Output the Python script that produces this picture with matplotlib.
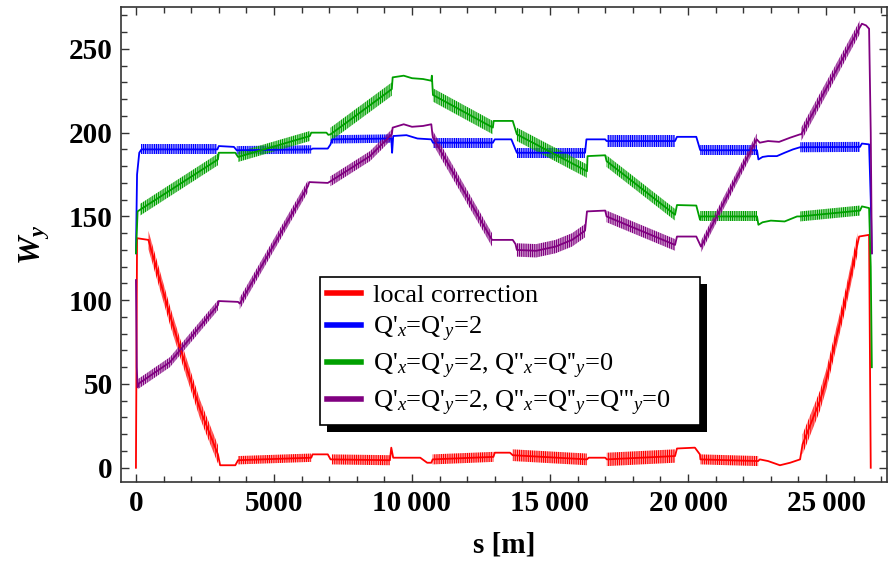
import matplotlib
matplotlib.use("Agg")
import matplotlib.pyplot as plt
import numpy as np
from matplotlib.patches import Rectangle
from matplotlib.ticker import MultipleLocator, FuncFormatter

plt.rcParams['font.family'] = 'Liberation Serif'
plt.rcParams['mathtext.fontset'] = 'custom'
plt.rcParams['mathtext.rm'] = 'Liberation Serif'
plt.rcParams['mathtext.it'] = 'Liberation Serif:italic'
plt.rcParams['mathtext.bf'] = 'Liberation Serif:bold:italic'
plt.rcParams['hatch.linewidth'] = 0.9

# W_y along the ring, s in metres (centre line of each curve)
s_red = [0, 40, 450, 1230, 1590, 2320, 2970, 3050, 3600, 3700, 6350, 6400, 6950, 7050,
         9200, 9250, 9320, 10300, 10550, 10700, 10750, 12950, 13000, 13550, 13650, 16340,
         16400, 17000, 17060, 19530, 19600, 20250, 20430, 20450, 22540, 22600, 22900, 23330,
         23700, 24060, 24150, 24780, 25000, 25700, 26200, 26560, 26620]
w_red = [0, 137, 136, 91, 72, 35, 8, 1.5, 1.5, 4.5, 6, 8, 8, 5,
         4.5, 12, 6, 6, 3, 3, 5, 6.5, 9, 9, 7.5, 5,
         6, 6, 5, 7, 11.5, 12, 8, 5, 4, 5, 4, 1.5,
         3, 5, 14, 40, 52, 100, 138, 139, 0]

s_blue = [0, 40, 120, 200, 2950, 3000, 3550, 3650, 6350, 6400, 6950, 7050, 7100, 9250,
          9280, 9320, 9800, 10200, 10700, 10760, 12930, 13000, 13600, 13800, 16270, 16320,
          17000, 17050, 19530, 19600, 20300, 20435, 20450, 22500, 22550, 22700, 22900, 23220,
          23500, 23800, 24060, 26230, 26300, 26560, 26620, 26660]
w_blue = [128, 175, 188, 190, 190, 192, 191.5, 189.5, 190, 190.5, 190.5, 193, 196, 196.5,
          188, 198, 198.5, 196.5, 196, 194, 194, 196, 196, 188, 188, 196,
          196, 195, 195, 197.5, 197.5, 190, 189.5, 189.5, 184, 185.5, 186, 186,
          188, 190, 191.3, 191.5, 193.5, 193, 160, 128]

s_green = [0, 60, 150, 2970, 3000, 3600, 3700, 6300, 6350, 6900, 6970, 7050, 9270, 9300,
           9700, 10000, 10400, 10700, 10720, 10760, 12930, 12960, 13650, 13800, 16340, 16360,
           17000, 17050, 19530, 19600, 20300, 20435, 20450, 22500, 22550, 22700, 23000, 23500,
           23950, 24060, 26230, 26300, 26560, 26620, 26660]
w_green = [128, 153, 154, 184, 188, 188, 185.5, 198, 200, 200, 198.7, 199, 226, 233,
           234, 232.5, 232, 231, 234, 222.5, 203, 207, 207, 199, 177, 186,
           186.5, 183, 151, 156.8, 156.5, 148, 150, 150, 145, 146.5, 147.5, 147,
           150, 150, 153.5, 156, 155, 120, 60]

s_purple = [0, 30, 60, 80, 1230, 2970, 3000, 3700, 3760, 6230, 6280, 6950, 7050, 8480,
            9270, 9300, 9700, 10000, 10400, 10700, 10740, 10760, 12900, 12950, 13650, 13750,
            13800, 14500, 15200, 15800, 16270, 16340, 17000, 17050, 19530, 19600, 20300, 20470,
            22490, 22600, 22900, 23300, 23700, 24060, 24100, 26230, 26300, 26450, 26560, 26620,
            26660]
w_purple = [112, 60, 48, 50, 63, 97, 99.5, 99, 98, 168, 170.5, 170, 171, 186,
            199, 203, 205, 203.5, 204, 205, 199, 197, 136, 136, 136, 133.5,
            130, 129.5, 132, 136, 141.5, 153, 153.5, 150, 133, 138, 138, 132,
            196, 194, 195, 194.5, 197, 199, 199, 263, 265, 264, 262, 200,
            128]

# stretches where the curve oscillates element by element: (s start, s end, full swing)
ripple_red = [(450, 2970, 11), (3700, 6350, 5), (7100, 9200, 6), (10750, 12950, 6),
              (13650, 16340, 7), (17060, 19530, 8), (20450, 22540, 6), (24150, 26150, 12)]
ripple_blue = [(200, 2950, 6), (3650, 6350, 5), (7100, 9250, 5), (10760, 12930, 6),
               (13800, 16270, 6), (17050, 19530, 7), (20450, 22500, 6), (24060, 26230, 6)]
ripple_green = [(150, 2970, 7), (3700, 6300, 6), (7050, 9270, 8), (10760, 12930, 8),
                (13800, 16340, 8), (17050, 19530, 7), (20450, 22500, 6), (24060, 26230, 6)]
ripple_purple = [(80, 1230, 6), (1230, 2970, 6), (3760, 6230, 7), (7050, 9270, 6),
                 (10760, 12900, 8), (13800, 16270, 8), (17050, 19530, 7), (20470, 22490, 7),
                 (24100, 26230, 8)]

labels = ["local correction",
          "Q'$_x$=Q'$_y$=2",
          "Q'$_x$=Q'$_y$=2, Q''$_x$=Q''$_y$=0",
          "Q'$_x$=Q'$_y$=2, Q''$_x$=Q''$_y$=Q'''$_y$=0"]
colors = ['#ff0000', '#0000ff', '#00a000', '#800080']

series = [(s_red, w_red, ripple_red),
          (s_blue, w_blue, ripple_blue),
          (s_green, w_green, ripple_green),
          (s_purple, w_purple, ripple_purple)]

fig = plt.figure(figsize=(8.94, 5.68), dpi=100)
ax = fig.add_axes([0.1353, 0.1514, 0.8569, 0.8363])

lines = []
for (s, w, ripple), c, lab in zip(series, colors, labels):
    s = np.array(s, float)
    w = np.array(w, float)
    ln, = ax.plot(s, w, color=c, lw=1.3, label=lab, solid_joinstyle='round')
    lines.append(ln)
    for s0, s1, amp in ripple:
        xs = np.concatenate([[s0], s[(s > s0) & (s < s1)], [s1]])
        ys = np.interp(xs, s, w)
        ax.fill_between(xs, ys - amp / 2, ys + amp / 2, facecolor='none',
                        edgecolor=c, hatch='|' * 9, linewidth=0)

ax.set_xlim(-543, 27210)
ax.set_ylim(-8.5, 275)

ax.xaxis.set_major_locator(MultipleLocator(5000))
ax.xaxis.set_minor_locator(MultipleLocator(1000))
ax.yaxis.set_major_locator(MultipleLocator(50))
ax.yaxis.set_minor_locator(MultipleLocator(10))


def fmt_s(v, pos):
    v = int(round(v))
    if v >= 10000:
        return f"{v // 1000}\u2009{v % 1000:03d}"
    return str(v)


ax.xaxis.set_major_formatter(FuncFormatter(fmt_s))
ax.tick_params(which='both', direction='in', top=True, right=True, width=1.0, color='#333333')
ax.tick_params(which='major', length=6, pad=6, labelsize=21)
ax.tick_params(which='minor', length=4)
for lab in ax.get_xticklabels() + ax.get_yticklabels():
    lab.set_fontweight('bold')
for sp in ax.spines.values():
    sp.set_linewidth(1.2)
    sp.set_color('#333333')

ax.set_xlabel('s [m]', fontsize=21, fontweight='bold', labelpad=10)
ax.set_ylabel(r'$\mathbf{W_y}$', fontsize=23, labelpad=12)

leg_x0, leg_top = 320 / 894, 1 - 277 / 568
leg_w, leg_h = 380 / 894, 145 / 568
leg = ax.legend(handles=lines, loc='upper left',
                bbox_to_anchor=(leg_x0, leg_top - leg_h, leg_w, leg_h),
                bbox_transform=fig.transFigure, mode='expand', borderaxespad=0,
                fontsize=19, fancybox=False, framealpha=1, edgecolor='black',
                handlelength=1.3, handletextpad=0.45, labelspacing=0.3, borderpad=0.25)
leg.get_frame().set_linewidth(1.2)
for h in leg.legend_handles:
    h.set_linewidth(4)

# solid drop shadow behind the legend box
fig.canvas.draw()
bb = leg.get_window_extent().transformed(fig.transFigure.inverted())
dx, dy = 7 / 894, 7 / 568
ax.add_patch(Rectangle((bb.x0 + dx, bb.y0 - dy), bb.width, bb.height,
                       transform=fig.transFigure, facecolor='black', edgecolor='none',
                       zorder=4.9, clip_on=False))

fig.savefig('out.png', dpi=100)
